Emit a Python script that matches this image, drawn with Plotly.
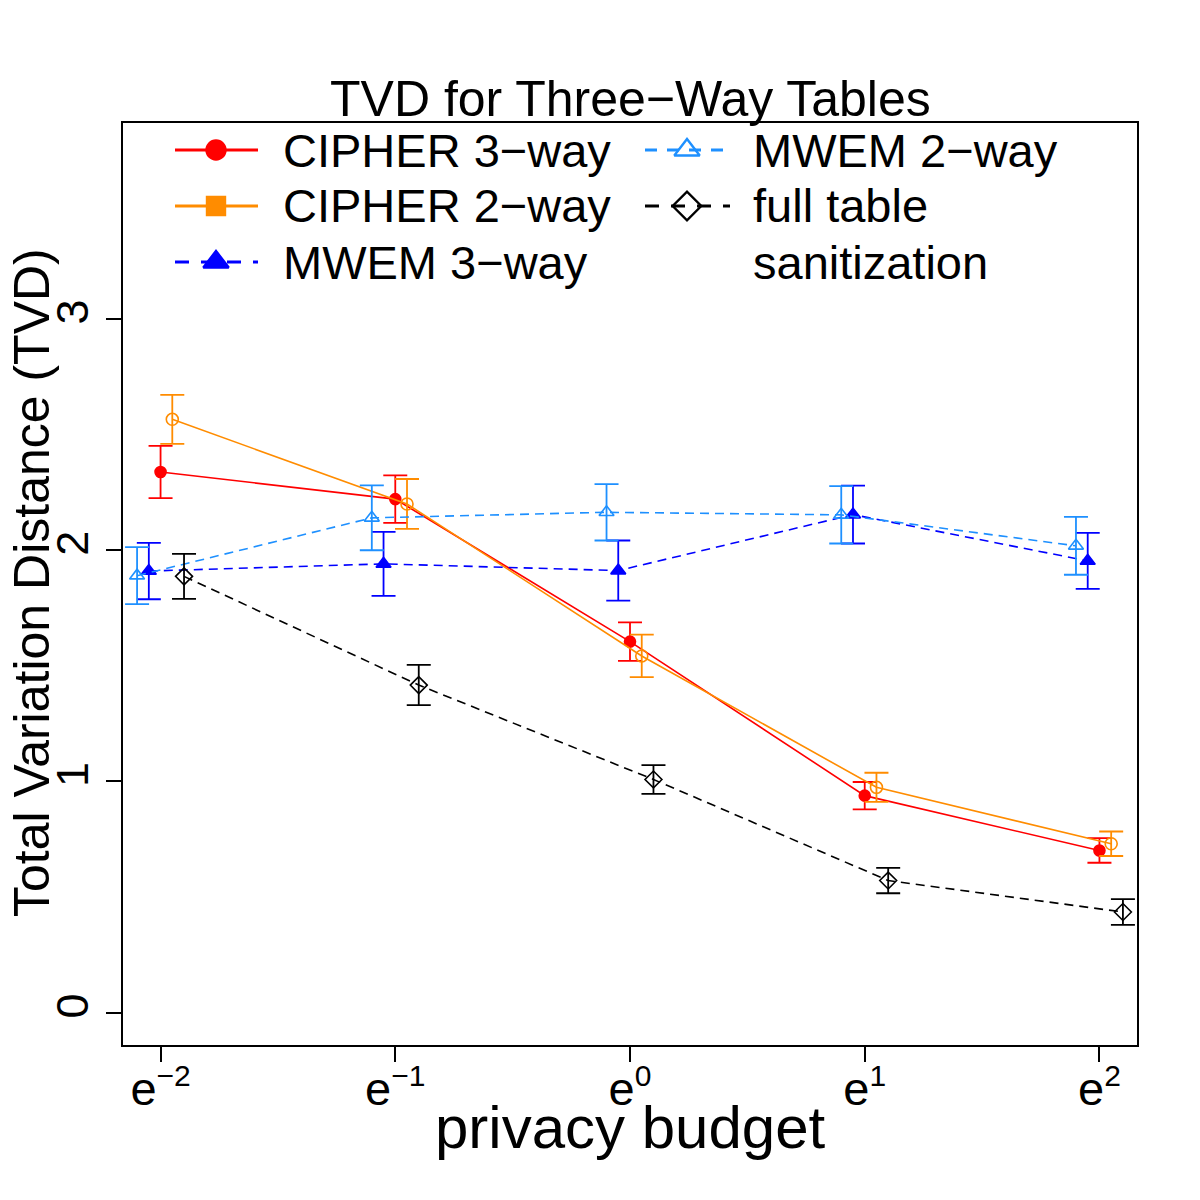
import numpy as np
import plotly.graph_objects as go

# ---------------- data ----------------
budget_exp = [-2, -1, 0, 1, 2]
tick_exps = ["−2", "−1", "0", "1", "2"]
y_ticks = [0, 1, 2, 3]

cipher3_mean = [2.337, 2.220, 1.604, 0.938, 0.701]
cipher3_err = [0.113, 0.103, 0.083, 0.059, 0.053]
cipher2_mean = [2.565, 2.199, 1.542, 0.974, 0.730]
cipher2_err = [0.106, 0.108, 0.092, 0.063, 0.053]
mwem3_mean = [1.909, 1.940, 1.911, 2.153, 1.953]
mwem3_err = [0.122, 0.138, 0.130, 0.125, 0.121]
mwem2_mean = [1.889, 2.139, 2.163, 2.152, 2.018]
mwem2_err = [0.123, 0.140, 0.122, 0.124, 0.125]
full_mean = [1.886, 1.416, 1.008, 0.571, 0.435]
full_err = [0.097, 0.087, 0.062, 0.055, 0.056]

tick_labels = ["e<sup><span style='font-size:30px'>%s</span></sup>" % e for e in tick_exps]

series = [
    # name, mean, err, x-jitter, color, symbol, msize, dash
    ("CIPHER 3−way", cipher3_mean, cipher3_err, 0.0, "#FF0000", "circle", 11, "solid"),
    ("CIPHER 2−way", cipher2_mean, cipher2_err, 0.05, "#FF8C00", "circle-open", 12, "solid"),
    ("MWEM 3−way", mwem3_mean, mwem3_err, -0.05, "#0000FF", "triangle-up", 13, "9px,6px"),
    ("MWEM 2−way", mwem2_mean, mwem2_err, -0.10, "#1E90FF", "triangle-up-open", 13, "9px,6px"),
    ("full table sanitization", full_mean, full_err, 0.10, "#000000", "diamond-open", 13, "9px,6px"),
]

# ---------------- geometry helpers (pixels -> paper) ----------------
W, H = 1200, 1200
L, R, T, B = 123, 63, 123, 155
PW, PH = W - L - R, H - T - B


def px(x):
    return (x - L) / PW


def py(y):
    return (H - B - y) / PH


FONT = "Liberation Sans, Arial, Helvetica, sans-serif"

fig = go.Figure()

for name, mean, err, jit, col, sym, ms, dash in series:
    xs = [e + jit for e in budget_exp]
    fig.add_trace(go.Scatter(
        x=xs, y=mean, mode="lines+markers", name=name, showlegend=False,
        line=dict(color=col, width=1.6, dash=dash),
        marker=dict(symbol=sym, size=ms, color=col, line=dict(color=col, width=1.6)),
        error_y=dict(type="data", array=err, visible=True, color=col, thickness=1.8, width=12),
        cliponaxis=False,
    ))

# ---------------- manual legend (overlay axes in pixel units) ----------------
leg_rows = [150, 206, 262]
leg_items = [
    (175, 258, 216, leg_rows[0], "#FF0000", "circle", 19, "solid"),
    (175, 258, 216, leg_rows[1], "#FF8C00", "square", 18, "solid"),
    (175, 258, 216, leg_rows[2], "#0000FF", "triangle-up", 22, "14px,12px"),
    (645, 730, 687, leg_rows[0], "#1E90FF", "triangle-up-open", 22, "12px,10px"),
    (645, 730, 687, leg_rows[1], "#000000", "diamond-open", 22, "14px,12px"),
]
for x0, x1, xm, yr, col, sym, ms, dash in leg_items:
    fig.add_trace(go.Scatter(
        x=[x0, x1], y=[yr, yr], mode="lines", xaxis="x2", yaxis="y2",
        line=dict(color=col, width=2.8, dash=dash), showlegend=False, hoverinfo="skip",
        cliponaxis=False,
    ))
    fig.add_trace(go.Scatter(
        x=[xm], y=[yr], mode="markers", xaxis="x2", yaxis="y2",
        marker=dict(symbol=sym, size=ms, color=col, line=dict(color=col, width=2.4)),
        showlegend=False, hoverinfo="skip", cliponaxis=False,
    ))

annotations = []
leg_text = [
    (281, leg_rows[0], "CIPHER 3−way"),
    (281, leg_rows[1], "CIPHER 2−way"),
    (281, leg_rows[2], "MWEM 3−way"),
    (751, leg_rows[0], "MWEM 2−way"),
    (751, leg_rows[1], "full table"),
    (751, leg_rows[2], "sanitization"),
]
for x, y, t in leg_text:
    annotations.append(dict(
        text=t, x=px(x), y=py(y), xref="paper", yref="paper",
        xanchor="left", yanchor="middle", showarrow=False,
        font=dict(family=FONT, size=47, color="black"),
    ))

# title
annotations.append(dict(
    text="TVD for Three−Way Tables", x=px(630), y=py(99), xref="paper", yref="paper",
    xanchor="center", yanchor="middle", showarrow=False,
    font=dict(family=FONT, size=50, color="black"),
))
# x title
annotations.append(dict(
    text="privacy budget", x=px(630), y=py(1127), xref="paper", yref="paper",
    xanchor="center", yanchor="middle", showarrow=False,
    font=dict(family=FONT, size=60, color="black"),
))
# y title
annotations.append(dict(
    text="Total Variation Distance (TVD)", x=px(32), y=py(583), xref="paper", yref="paper",
    xanchor="center", yanchor="middle", showarrow=False, textangle=-90,
    font=dict(family=FONT, size=50, color="black"),
))

fig.update_layout(
    width=W, height=H,
    margin=dict(l=L, r=R, t=T, b=B),
    paper_bgcolor="white", plot_bgcolor="white",
    showlegend=False,
    font=dict(family=FONT, color="black"),
    annotations=annotations,
    xaxis=dict(
        range=[-2.16, 2.16], tickmode="array", tickvals=budget_exp, ticktext=tick_labels,
        showline=True, mirror=True, linecolor="black", linewidth=2,
        ticks="outside", ticklen=15, tickwidth=1.5, tickcolor="black",
        ticklabelstandoff=-13,
        showgrid=False, zeroline=False, tickfont=dict(family=FONT, size=47),
    ),
    yaxis=dict(
        range=[-0.140, 3.846], tickmode="array", tickvals=y_ticks, ticktext=[str(v) for v in y_ticks],
        showline=True, mirror=True, linecolor="black", linewidth=2,
        ticks="outside", ticklen=15, tickwidth=1.5, tickcolor="black", tickangle=-90,
        showgrid=False, zeroline=False, tickfont=dict(family=FONT, size=45),
    ),
    xaxis2=dict(overlaying="x", range=[L, W - R], visible=False),
    yaxis2=dict(overlaying="y", range=[H - B, T], visible=False),
)

fig.write_html("out.html")
